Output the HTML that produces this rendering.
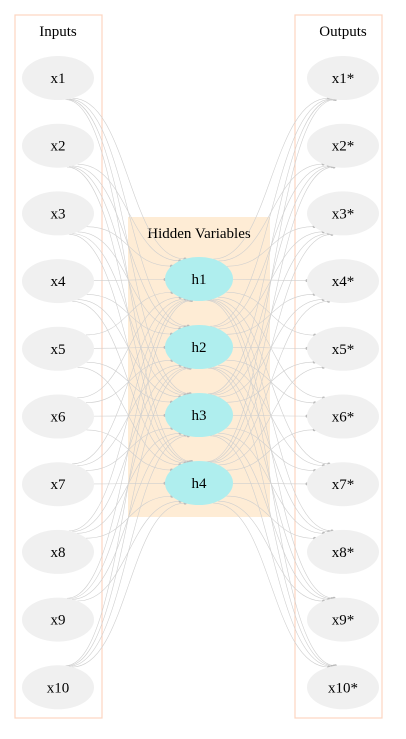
<!DOCTYPE html>
<html><head><meta charset="utf-8"><style>
body{margin:0;background:#fff;width:406px;height:734px;overflow:hidden}
text{font-family:"Liberation Serif",serif;fill:#000}
</style></head><body>
<svg width="406" height="734" viewBox="0 0 406 734">
<rect x="15" y="15" width="87" height="703" fill="none" stroke="#fdd5c0" stroke-width="1.2"/>
<rect x="295" y="15" width="87" height="703" fill="none" stroke="#fdd5c0" stroke-width="1.2"/>
<rect x="128" y="217" width="142" height="300" fill="#feecd5"/>
<text x="58" y="36" font-size="15" text-anchor="middle">Inputs</text>
<text x="343" y="36" font-size="15" text-anchor="middle">Outputs</text>
<text x="199" y="238" font-size="15" text-anchor="middle">Hidden Variables</text>
<g id="edges"></g><g id="nodes"></g>
</svg>
<script>
const inputs=["x1","x2","x3","x4","x5","x6","x7","x8","x9","x10"];
const outputs=["x1*","x2*","x3*","x4*","x5*","x6*","x7*","x8*","x9*","x10*"];
const hidden=["h1","h2","h3","h4"];
const NS="http://www.w3.org/2000/svg";
const E=document.getElementById('edges'),N=document.getElementById('nodes');
const yIn=i=>78+i*67.7, yH=j=>279+j*68;
function path(d){const p=document.createElementNS(NS,'path');p.setAttribute('d',d);p.setAttribute('fill','none');p.setAttribute('stroke','#cfcfcf');p.setAttribute('stroke-width','0.6');


E.appendChild(p);}
function dot(x,y){const c=document.createElementNS(NS,'circle');c.setAttribute('cx',x);c.setAttribute('cy',y);c.setAttribute('r',1.5);c.setAttribute('fill','#bbb');


E.appendChild(c);}
function bnd(cx,cy,px,py,rx,ry){const dx=px-cx,dy=py-cy;const t=1/Math.sqrt(dx*dx/(rx*rx)+dy*dy/(ry*ry));return [cx+dx*t,cy+dy*t];}
inputs.forEach((n,i)=>hidden.forEach((h,j)=>{
const s=bnd(58,yIn(i),199,yH(j),36,22),e=bnd(199,yH(j),58,yIn(i),34,22);
const mx=(s[0]+e[0])/2;
path(`M${s[0]},${s[1]} C${mx},${s[1]} ${mx},${e[1]} ${e[0]},${e[1]}`);dot(e[0],e[1]);}));
hidden.forEach((h,j)=>outputs.forEach((n,i)=>{
const s=bnd(199,yH(j),343,yIn(i),34,22),e=bnd(343,yIn(i),199,yH(j),36,22);
const mx=(s[0]+e[0])/2;
path(`M${s[0]},${s[1]} C${mx},${s[1]} ${mx},${e[1]} ${e[0]},${e[1]}`);dot(e[0],e[1]);}));
function node(cx,cy,rx,fill,label,name){const e=document.createElementNS(NS,'ellipse');e.setAttribute('cx',cx);e.setAttribute('cy',cy);e.setAttribute('rx',rx);e.setAttribute('ry',22);e.setAttribute('fill',fill);


N.appendChild(e);const t=document.createElementNS(NS,'text');t.setAttribute('x',cx);t.setAttribute('y',cy+5);t.setAttribute('font-size','15');t.setAttribute('text-anchor','middle');t.textContent=label;


N.appendChild(t);}
inputs.forEach((n,i)=>node(58,yIn(i),36,'#f0f0f0',n,'input-node-'+n));
outputs.forEach((n,i)=>node(343,yIn(i),36,'#f0f0f0',n,'output-node-'+(i+1)));
hidden.forEach((n,j)=>node(199,yH(j),34,'#afeeee',n,'hidden-node-'+n));
</script>
</body></html>
